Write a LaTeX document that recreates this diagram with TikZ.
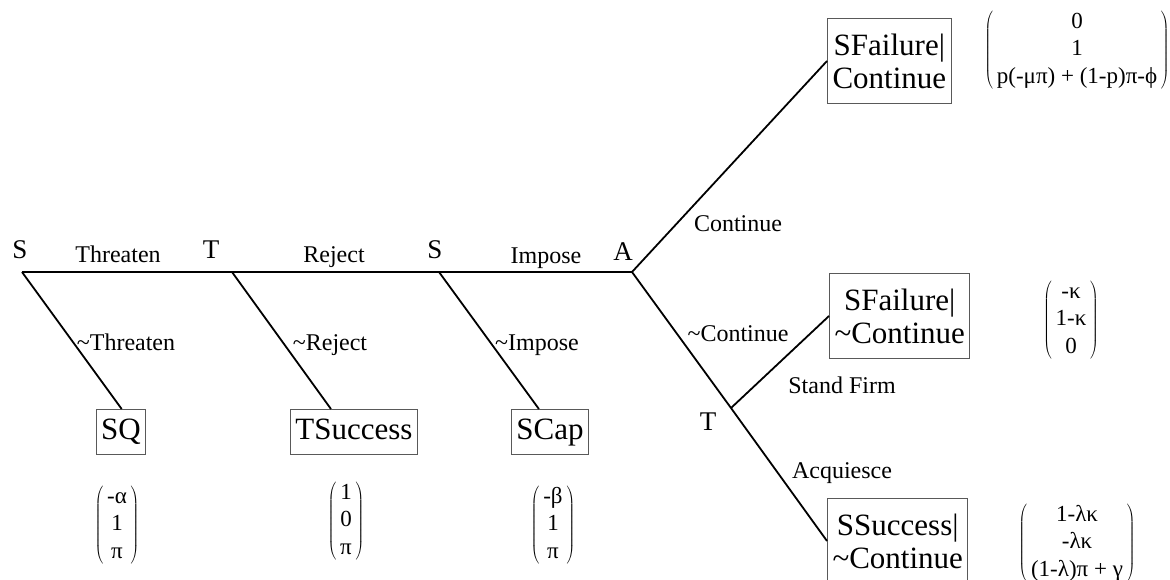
\documentclass[tikz,border=0pt]{standalone}
\usepackage{fontspec}
\setmainfont{Liberation Serif}
\newfontfamily\treefont{Liberation Serif}
\usetikzlibrary{positioning}

\newcommand{\payvec}[1]{$\left(\begin{tabular}{@{\,}c@{\,}}#1\end{tabular}\right)$}

\begin{document}
\begin{tikzpicture}[
  x=1pt, y=-1pt,
  every node/.style={inner sep=0pt, font=\treefont\fontsize{24}{26}\selectfont},
  branch/.style={line width=1.8pt},
  player/.style={anchor=base, font=\treefont\fontsize{27}{30}\selectfont},
  move/.style={anchor=base},
  outcome/.style={draw=black!65, line width=1pt, inner xsep=5pt, font=\treefont\fontsize{31}{33}\selectfont},
  single/.style={minimum height=45pt, text height=22pt, text depth=7pt},
  double/.style={minimum height=85pt, align=center},
  payoff/.style={font=\treefont\fontsize{23}{27.5}\selectfont}
]
\useasboundingbox (0,0) rectangle (1170,579);

% DECISION POINTS
\coordinate (s1) at (22,272);
\coordinate (t1) at (232,272);
\coordinate (s2) at (439,272);
\coordinate (a)  at (632,272);
\coordinate (t2) at (731,408);

% PLAYERS
\node (ps1) [player] at (20,258)  {S};
\node (pt1) [player] at (211,258) {T};
\node (ps2) [player] at (435,258) {S};
\node (pa)  [player] at (623,260) {A};
\node (pt2) [player] at (708,430) {T};

% OUTCOMES
\node (sq)    [outcome, single, anchor=north] at (121,409) {SQ};
\node (tsucc) [outcome, single, anchor=north] at (354,409) {TSuccess};
\node (scap)  [outcome, single, anchor=north] at (550,409) {SCap};
\node (sfc)   [outcome, double, anchor=west] at (827,61)  {SFailure|\\Continue};
\node (sfn)   [outcome, double, anchor=west] at (829,316) {SFailure|\\\textasciitilde Continue};
\node (ssn)   [outcome, double, anchor=west] at (827,541) {SSuccess|\\\textasciitilde Continue};

% PAYOFFS
\node (vsq)    [payoff] at (117,525)  {\payvec{-α\\1\\π}};
\node (vtsucc) [payoff] at (346,521)  {\payvec{1\\0\\π}};
\node (vscap)  [payoff] at (553,525)  {\payvec{-β\\1\\π}};
\node (vsfc)   [payoff] at (1077,50)  {\payvec{0\\1\\p(-μπ) + (1-p)π-ϕ}};
\node (vsfn)   [payoff] at (1071,320) {\payvec{-κ\\1-κ\\0}};
\node (vssn)   [payoff] at (1077,543) {\payvec{1-λκ\\-λκ\\(1-λ)π + γ}};

% MOVES
\node (mthr)  [move] at (118,262) {Threaten};
\node (mrej)  [move] at (334,262) {Reject};
\node (mimp)  [move] at (546,263) {Impose};
\node (nthr)  [move] at (126,350) {\textasciitilde Threaten};
\node (nrej)  [move] at (330,350) {\textasciitilde Reject};
\node (nimp)  [move] at (537,350) {\textasciitilde Impose};
\node (mcont) [move] at (738,231) {Continue};
\node (ncont) [move] at (738,341) {\textasciitilde Continue};
\node (mfirm) [move] at (842,393) {Stand Firm};
\node (macq)  [move] at (842,478) {Acquiesce};

\draw[branch] (s1) -- (t1) -- (s2) -- (a);
\draw[branch] (s1) -- ([xshift=26pt]sq.north west);
\draw[branch] (t1) -- ([xshift=41pt]tsucc.north west);
\draw[branch] (s2) -- ([xshift=28pt]scap.north west);
\draw[branch] (a)  -- (sfc.west);
\draw[branch] (a)  -- (t2) -- (ssn.west);
\draw[branch] (t2) -- (sfn.west);
\end{tikzpicture}
\end{document}
